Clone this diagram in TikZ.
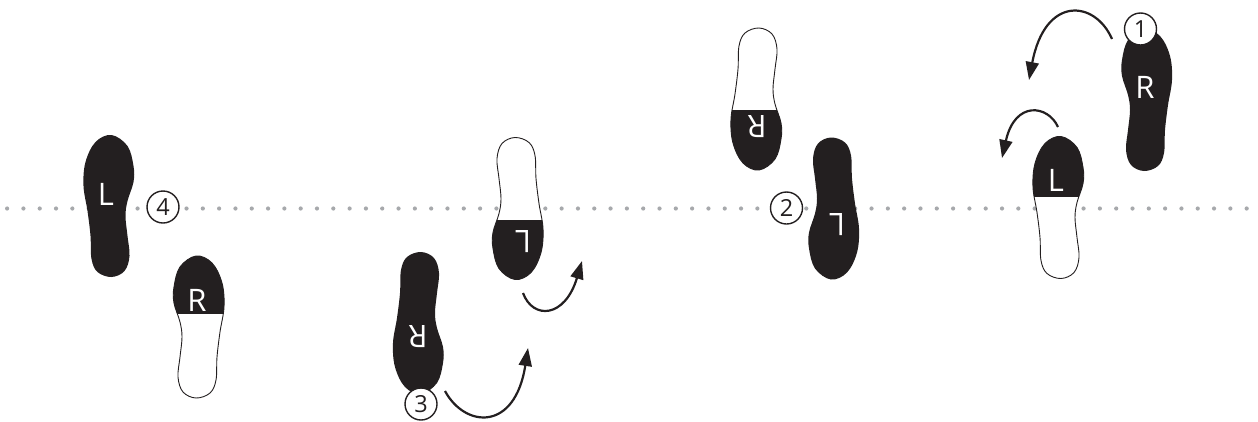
\documentclass[tikz,border=0pt]{standalone}
\usepackage{fontspec}
\setsansfont{Open Sans}
\usetikzlibrary{arrows.meta}

\definecolor{inkblack}{RGB}{35,31,32}
\definecolor{dotgray}{RGB}{167,169,172}

% outline of a left sole, toe up, centred on the origin (y grows downwards)
\newcommand\soleshape{plot[smooth cycle, tension=0.6] coordinates {(3,-71) (19,-60) (25,-40) (25,-24) (19,-5) (17,10) (19,30) (21,50) (16,65) (3,71) (-11,66) (-17,53) (-18,30) (-21,5) (-25,-20) (-23,-44) (-13,-64)}}

% full sole: centre, rotation, mirror (1 = left foot, -1 = right foot)
\newcommand\fullsole[3]{%
  \fill[inkblack, shift={#1}, rotate=#2, xscale=#3] \soleshape;}

% sole with only the ball darkened: centre, rotation, mirror, split line
\newcommand\ballsole[4]{%
  \begin{scope}[shift={#1}, rotate=#2, xscale=#3]
    \fill[white] \soleshape;
    \begin{scope}
      \clip \soleshape;
      \fill[inkblack] (-40,-80) rectangle (40,#4);
    \end{scope}
    \draw[inkblack, line width=0.9pt] \soleshape;
  \end{scope}}

\begin{document}
\begin{tikzpicture}[x=1pt, y=-1pt,
  footlabel/.style={text=white, inner sep=0pt,
    font=\sffamily\fontsize{31}{31}\selectfont},
  stepnum/.style={circle, draw=inkblack, fill=white, line width=1.4pt,
    minimum size=32pt, inner sep=0pt, text=inkblack,
    font=\sffamily\fontsize{23.5}{23.5}\selectfont},
  turn/.style={draw=inkblack, line width=2.2pt,
    -{Triangle[length=18pt, width=13pt]}}]

\useasboundingbox (0,0) rectangle (1258,421);

% dotted reference line
\foreach \i in {0,...,76}
  \fill[dotgray] (7.1+16.31*\i, 208.5) circle (2.1pt);

% soles
\fullsole{(108.5,206)}{0}{1}
\ballsole{(199,327)}{0}{-1}{-13}
\fullsole{(418,323)}{180}{-1}
\ballsole{(518,208.5)}{180}{1}{-11.5}
\ballsole{(756,99)}{180}{-1}{-11}
\fullsole{(834,208.5)}{180}{1}
\fullsole{(1147,100)}{0}{-1}
\ballsole{(1058,207.5)}{0}{1}{-10.5}

% letters on the soles
\node[footlabel] (la) at (106,194) {L};
\node[footlabel] (lb) at (197,300) {R};
\node[footlabel, rotate=180] (lc) at (418,337) {R};
\node[footlabel, rotate=180] (ld) at (523,242) {L};
\node[footlabel, rotate=180] (le) at (757,127) {R};
\node[footlabel, rotate=180] (lf) at (837,225) {L};
\node[footlabel] (lg) at (1145,87) {R};
\node[footlabel] (lh) at (1056,180) {L};

% step numbers
\node[stepnum] (s1) at (1140.5,29) {1};
\node[stepnum] (s2) at (786.5,208) {2};
\node[stepnum] (s3) at (421,404) {3};
\node[stepnum] (s4) at (163,207) {4};

% turning arrows
\coordinate (a1s) at (1112,39);  \coordinate (a1e) at (1029,80);
\coordinate (a2s) at (1058,127); \coordinate (a2e) at (1002,158);
\coordinate (a3s) at (523,293);  \coordinate (a3e) at (582,261);
\coordinate (a4s) at (445,391);  \coordinate (a4e) at (528,348);

\draw[turn] (a1s) .. controls (1095,0) and (1045,-5) .. (a1e);
\draw[turn] (a2s) .. controls (1048,105) and (1015,100) .. (a2e);
\draw[turn] (a3s) .. controls (533,320) and (565,318) .. (a3e);
\draw[turn] (a4s) .. controls (465,428) and (515,432) .. (a4e);

\end{tikzpicture}
\end{document}
